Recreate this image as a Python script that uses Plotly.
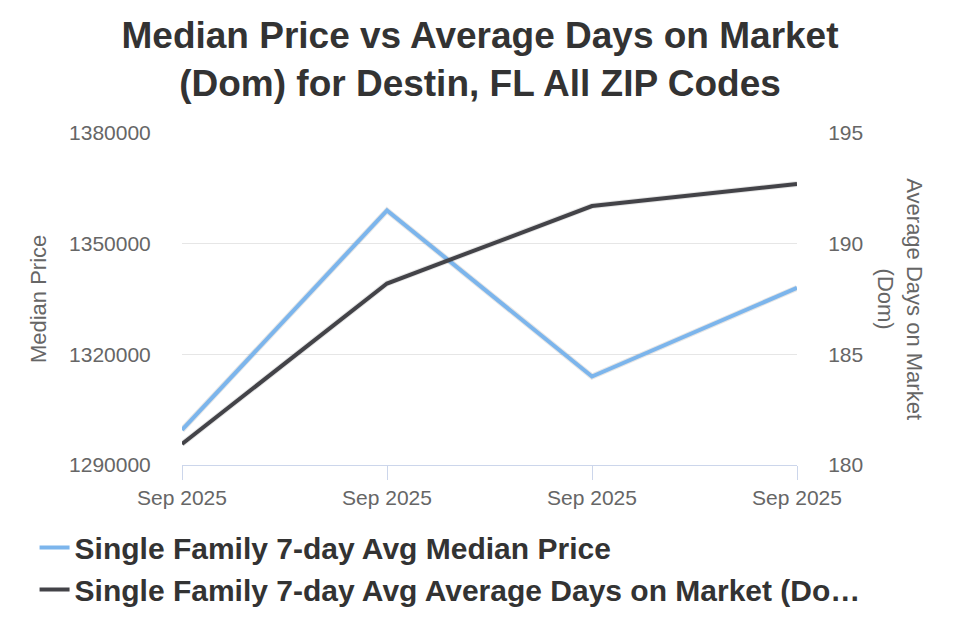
import plotly.graph_objects as go

x_idx = [0, 1, 2, 3]
x_labels = ["Sep 2025", "Sep 2025", "Sep 2025", "Sep 2025"]
median_price = [1299500, 1359000, 1314000, 1338000]
avg_dom = [180.95, 188.2, 191.7, 192.7]

price_name = "Single Family 7-day Avg Median Price"
dom_name = "Single Family 7-day Avg Average Days on Market (Do…"

left_ticks = [1290000, 1320000, 1350000, 1380000]
right_ticks = [180, 185, 190, 195]

FONT = "Liberation Sans, Arial, sans-serif"

fig = go.Figure()
# soft shadows
fig.add_trace(go.Scatter(x=x_idx, y=median_price, mode="lines", yaxis="y",
                         line=dict(color="rgba(0,0,0,0.10)", width=6),
                         showlegend=False, hoverinfo="skip"))
fig.add_trace(go.Scatter(x=x_idx, y=avg_dom, mode="lines", yaxis="y2",
                         line=dict(color="rgba(0,0,0,0.10)", width=6),
                         showlegend=False, hoverinfo="skip"))
fig.add_trace(go.Scatter(x=x_idx, y=median_price, mode="lines", name=price_name,
                         line=dict(color="#7cb5ec", width=4), yaxis="y"))
fig.add_trace(go.Scatter(x=x_idx, y=avg_dom, mode="lines", name=dom_name,
                         line=dict(color="#434348", width=4), yaxis="y2"))

fig.update_layout(
    width=960, height=640,
    margin=dict(l=182, r=163, t=133, b=175, autoexpand=False),
    paper_bgcolor="white", plot_bgcolor="white",
    font=dict(family=FONT, color="#666666"),
    title=dict(text="Median Price vs Average Days on Market<br>(Dom) for Destin, FL All ZIP Codes",
               x=0.5, xanchor="center", xref="container", yref="container",
               y=0.925, yanchor="top",
               font=dict(size=37, color="#333333", family=FONT, weight="bold")),
    xaxis=dict(range=[0, 3], tickvals=x_idx, ticktext=x_labels,
               showgrid=False, zeroline=False, automargin=False,
               showline=True, linecolor="#ccd6eb", linewidth=1,
               ticks="outside", ticklen=14, tickcolor="#ccd6eb",
               tickfont=dict(size=21, color="#666666")),
    yaxis=dict(range=[1290000, 1380000], tickvals=left_ticks,
               ticktext=[str(v) for v in left_ticks], automargin=False,
               showgrid=True, gridcolor="#e6e6e6", gridwidth=1, zeroline=False,
               ticks="outside", ticklen=26, tickcolor="rgba(0,0,0,0)",
               tickfont=dict(size=21, color="#666666")),
    yaxis2=dict(range=[180, 195], tickvals=right_ticks, overlaying="y", side="right",
                showgrid=False, zeroline=False, automargin=False,
                ticks="outside", ticklen=26, tickcolor="rgba(0,0,0,0)",
                tickfont=dict(size=21, color="#666666")),
    legend=dict(orientation="v", xref="container", yref="container",
                x=0.036, xanchor="left", y=0.185, yanchor="top",
                font=dict(size=30, color="#333333", family=FONT, weight="bold"),
                tracegroupgap=0, bgcolor="rgba(0,0,0,0)"),
    annotations=[
        dict(text="Median Price", xref="paper", yref="paper",
             x=-0.234, y=0.5, xanchor="center", yanchor="middle",
             textangle=-90, showarrow=False,
             font=dict(size=22, color="#666666", family=FONT)),
        dict(text="Average Days on Market<br>(Dom)", xref="paper", yref="paper",
             x=1.167, y=0.5, xanchor="center", yanchor="middle",
             textangle=90, showarrow=False,
             font=dict(size=22, color="#666666", family=FONT)),
    ],
)

fig.write_html("out.html")
